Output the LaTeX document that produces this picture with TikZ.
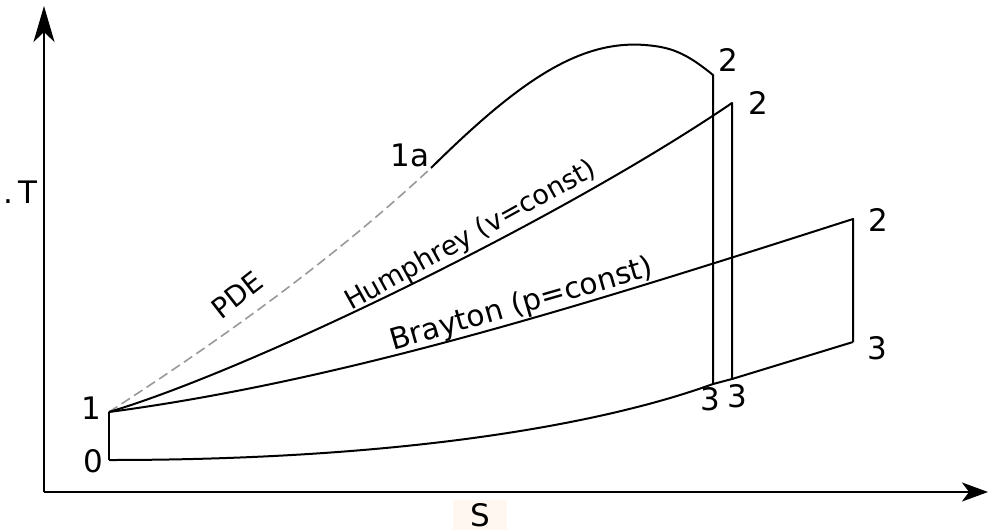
\documentclass[tikz,border=0pt]{standalone}
\usepackage{fontspec}
\setmainfont{DejaVu Sans}
\usepackage{tikz}
\usetikzlibrary{arrows.meta}
\definecolor{sback}{RGB}{255,247,240}
\newcommand{\ptfont}{\fontsize{31}{35}\selectfont}
\newcommand{\crvfont}{\fontsize{27}{31}\selectfont}

\begin{document}
\begin{tikzpicture}[
  x=1pt, y=-1pt,
  axis/.style={line width=2.4pt},
  crv/.style={line width=2pt, line join=round},
  pde/.style={line width=1.6pt, gray!80, dash pattern=on 10pt off 5pt},
  pt/.style={font=\ptfont, inner sep=0pt},
  crvlbl/.style={font=\crvfont, inner sep=0pt}
]
\useasboundingbox (0,0) rectangle (988,531);

% Axes
\coordinate (O) at (44,492);
\coordinate (ytop) at (44,6);
\coordinate (xend) at (988,492);
\draw[axis, -{Stealth[length=36pt, width=21pt, inset=10pt]}] (O) -- (ytop);
\draw[axis, -{Stealth[length=26pt, width=19pt, inset=7pt]}] (O) -- (xend);
\node[font=\ptfont] (tlbl) at (20,192) {.\,T};
\node[font=\ptfont, fill=sback, minimum width=54pt, minimum height=30pt, inner sep=0pt] (slbl) at (480,515) {S};

% Cycle points
\coordinate (p0) at (109,460);
\coordinate (p1) at (109,412);
\coordinate (p1a) at (431,168);
\coordinate (pdetop) at (713,75);
\coordinate (pdebot) at (713,384);
\coordinate (hum2) at (732,103);
\coordinate (hum3) at (732,379);
\coordinate (bra2) at (853,219);
\coordinate (bra3) at (853,342);

% Compression 0-1
\draw[crv] (p0) -- (p1);
% PDE detonation
\draw[pde] (p1) .. controls (220,340) and (330,262) .. (p1a);
\draw[crv] (p1a) .. controls (520,80) and (580,40) .. (645,45)
  .. controls (670,47) and (685,52) .. (pdetop) -- (pdebot);
% Humphrey
\draw[crv] (p1) .. controls (250,370) and (560,220) .. (hum2) -- (hum3);
% Brayton
\draw[crv] (p1) .. controls (350,380) and (600,300) .. (bra2) -- (bra3);
% Heat rejection
\draw[crv] (p0) .. controls (400,460) and (600,425) .. (pdebot) -- (hum3) -- (bra3);

% Point labels
\node[pt] (l0) at (93,461) {0};
\node[pt] (l1) at (91,408) {1};
\node[pt] (l1a) at (410,155) {1a};
\node[pt] (lpde2) at (728,60) {2};
\node[pt] (lhum2) at (758,103) {2};
\node[pt] (lbra2) at (878,220) {2};
\node[pt] (lpde3) at (710,399) {3};
\node[pt] (lhum3) at (737,396) {3};
\node[pt] (lbra3) at (877,348) {3};

% Curve labels
\node[crvlbl, font=\fontsize{28}{32}\selectfont, rotate=38] (pdelbl) at (237,295) {PDE};
\node[crvlbl, rotate=29] (humlbl) at (471,236) {Humphrey (v=const)};
\node[crvlbl, font=\fontsize{29.5}{34}\selectfont, rotate=16] (bralbl) at (522,305) {Brayton (p=const)};
\end{tikzpicture}
\end{document}
